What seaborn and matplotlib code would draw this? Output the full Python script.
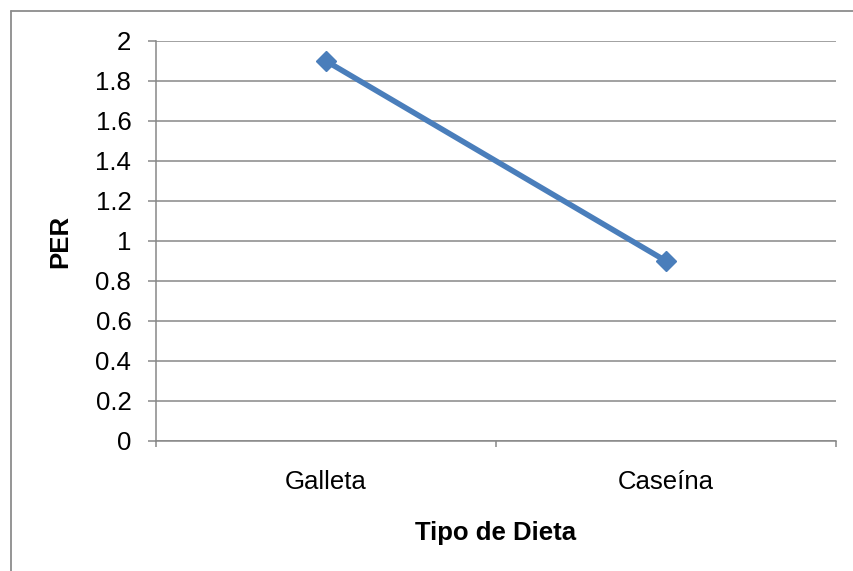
import matplotlib
matplotlib.use("Agg")
import matplotlib.pyplot as plt
from matplotlib.lines import Line2D
import seaborn as sns
import pandas as pd

# Diet type vs. protein efficiency ratio
categories = ["Galleta", "Caseína"]
per_values = [1.9, 0.9]
y_ticks = [0, 0.2, 0.4, 0.6, 0.8, 1.0, 1.2, 1.4, 1.6, 1.8, 2.0]
y_tick_labels = ["0", "0.2", "0.4", "0.6", "0.8", "1", "1.2", "1.4", "1.6", "1.8", "2"]

sns.set_theme(style="white")
plt.rcParams["font.family"] = ["Liberation Sans", "DejaVu Sans"]

W, H = 854, 571
fig = plt.figure(figsize=(W / 100, H / 100), dpi=100)
fig.patch.set_facecolor("white")

left, right, top, bottom = 156, 836, 41, 441
ax = fig.add_axes([left / W, 1 - bottom / H, (right - left) / W, (bottom - top) / H])

df = pd.DataFrame({"Tipo de Dieta": categories, "PER": per_values})
sns.lineplot(data=df, x="Tipo de Dieta", y="PER", sort=False, ax=ax,
             color="#4A7EBB", linewidth=4.0, marker="D", markersize=10,
             markeredgecolor="#4A7EBB", markerfacecolor="#4A7EBB", markeredgewidth=1)

grid_col = "#878787"
ax.set_xlim(-0.5, 1.5)
ax.set_ylim(0, 2)
ax.set_yticks(y_ticks)
ax.set_yticklabels(y_tick_labels)
ax.yaxis.grid(True, color=grid_col, linewidth=1.1)
ax.xaxis.grid(False)
ax.set_axisbelow(True)

for s in ["top", "right"]:
    ax.spines[s].set_visible(False)
for s in ["left", "bottom"]:
    ax.spines[s].set_color(grid_col)
    ax.spines[s].set_linewidth(1.1)

fs = 18.5
ax.tick_params(axis="y", which="major", length=5.8, width=1.1, color=grid_col,
               labelsize=fs, labelcolor="black", pad=12, direction="out", left=True)
ax.set_xticks([0, 1])
ax.set_xticklabels(categories)
ax.set_xticks([-0.5, 0.5, 1.5], minor=True)
ax.tick_params(axis="x", which="major", length=0, labelsize=fs, labelcolor="black", pad=21)
ax.tick_params(axis="x", which="minor", length=4, width=1.1, color=grid_col,
               direction="out", bottom=True)

ax.set_xlabel("Tipo de Dieta", fontsize=fs, fontweight="bold", color="black")
ax.set_ylabel("PER", fontsize=fs, fontweight="bold", color="black")
ax.xaxis.set_label_coords(0.5, (bottom - 533) / (bottom - top))
ax.xaxis.label.set_verticalalignment("center")
ax.yaxis.set_label_coords((60 - left) / (right - left), 0.5)
ax.yaxis.label.set_verticalalignment("center")

# Chart-area frame (left and top edges)
bx, by = 11, 11
fig.add_artist(Line2D([bx / W, bx / W], [1 - by / H, 0], transform=fig.transFigure,
                      color="#8C8C8C", linewidth=1.3))
fig.add_artist(Line2D([bx / W, 1], [1 - by / H, 1 - by / H], transform=fig.transFigure,
                      color="#8C8C8C", linewidth=1.3))

fig.savefig("out.png", dpi=100)
